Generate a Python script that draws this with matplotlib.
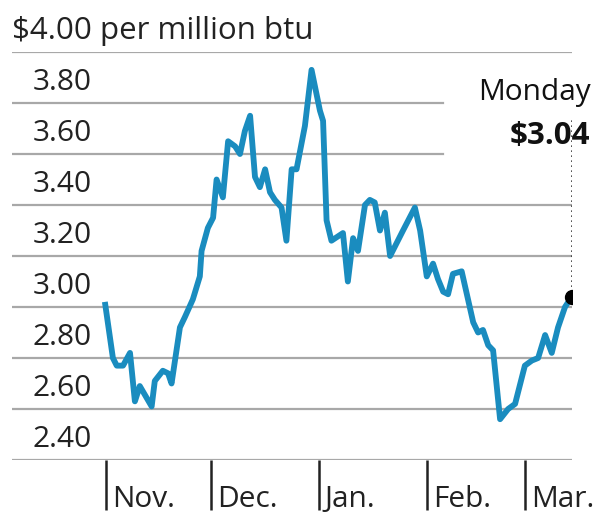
import matplotlib
matplotlib.use('Agg')
import matplotlib.pyplot as plt
import matplotlib.transforms as mtransforms

# Henry Hub natural gas, days counted from Nov. 1
days = [-0.3, 2.0, 3.1, 4.9, 6.9, 8.3, 9.7, 13.1, 14.0, 16.3, 17.8, 18.8,
        21.2, 22.6, 24.9, 26.9, 27.4, 29.2, 30.7, 31.7, 33.5, 35.0, 37.0,
        38.4, 39.8, 41.3, 42.7, 44.1, 45.6, 47.0, 48.4, 50.3, 51.7, 53.2,
        54.6, 57.0, 58.9, 61.3, 62.2, 63.2, 64.6, 67.9, 69.3, 70.8, 72.2,
        74.2, 75.6, 77.0, 78.5, 79.9, 81.4, 85.1, 88.5, 90.0, 91.9, 93.7,
        95.1, 96.6, 98.0, 99.4, 101.9, 105.2, 106.6, 108.0, 109.5, 110.9,
        112.9, 115.2, 117.2, 120.0, 122.0, 123.8, 125.8, 127.7, 129.5,
        131.5, 133.4]
prices = [3.02, 2.80, 2.77, 2.77, 2.82, 2.63, 2.69, 2.61, 2.71, 2.75, 2.74,
          2.70, 2.92, 2.96, 3.03, 3.12, 3.22, 3.31, 3.35, 3.50, 3.43, 3.65,
          3.63, 3.60, 3.69, 3.75, 3.51, 3.47, 3.54, 3.45, 3.42, 3.39, 3.26,
          3.54, 3.54, 3.71, 3.93, 3.77, 3.73, 3.34, 3.26, 3.29, 3.10, 3.27,
          3.22, 3.40, 3.42, 3.41, 3.30, 3.37, 3.20, 3.30, 3.39, 3.30, 3.12,
          3.17, 3.11, 3.06, 3.05, 3.13, 3.14, 2.94, 2.90, 2.91, 2.85, 2.83,
          2.56, 2.60, 2.62, 2.77, 2.79, 2.80, 2.89, 2.82, 2.92, 3.00, 3.04]

month_days = [0, 30, 61, 92, 120]
month_labels = ['Nov.', 'Dec.', 'Jan.', 'Feb.', 'Mar.']
y_levels = [2.40, 2.60, 2.80, 3.00, 3.20, 3.40, 3.60, 3.80]
y_labels = ['2.40', '2.60', '2.80', '3.00', '3.20', '3.40', '3.60', '3.80']

plt.rcParams['font.family'] = ['Open Sans', 'DejaVu Sans']

fig = plt.figure(figsize=(5.99, 5.16), dpi=100)
ax = fig.add_axes([12 / 599, 1 - 460 / 516, 560 / 599, 408 / 516])
ax.set_xlim(-26.9, 133.5)
ax.set_ylim(2.40, 4.00)
for s in ax.spines.values():
    s.set_visible(False)
ax.set_yticks([])

grid_kw = dict(color='#a8a8a8', lw=1.6, zorder=1)
ax.axhline(4.00, **grid_kw)
for v, lab in zip(y_levels, y_labels):
    right = 0.77 if v >= 3.60 else 1.0
    ax.axhline(v, xmin=0, xmax=right, **grid_kw)
    ax.text(0.037, v + 0.022, lab, transform=ax.get_yaxis_transform(),
            fontsize=21.5, color='#222222', va='bottom', ha='left')

ax.text(0.0, 4.022, '$4.00 per million btu', transform=ax.get_yaxis_transform(),
        fontsize=22.5, color='#222222', va='bottom', ha='left')

ax.plot(days, prices, color='#1a8cbf', lw=4.2, solid_joinstyle='round',
        solid_capstyle='butt', zorder=3)
ax.plot(days[-1], prices[-1], 'o', color='black', ms=10, zorder=4)
ax.plot([days[-1], days[-1]], [prices[-1], 3.74], ls=(0, (1, 2)), color='#333333',
        lw=1.2, zorder=2)
ax.text(1.033, 3.81, 'Monday', transform=ax.get_yaxis_transform(), fontsize=21.5,
        ha='right', va='baseline', color='#111111')
ax.text(1.033, 3.64, '$3.04', transform=ax.get_yaxis_transform(), fontsize=22.5,
        fontweight='bold', ha='right', va='baseline', color='#111111')

ax.set_xticks(month_days)
ax.set_xticklabels([])
ax.tick_params(axis='x', length=36, width=1.8, color='#222222', direction='out')
offset = mtransforms.ScaledTranslation(6 / 100, 0, fig.dpi_scale_trans)
for d, lab in zip(month_days, month_labels):
    ax.text(d, -0.115, lab, transform=ax.get_xaxis_transform() + offset,
            fontsize=21.5, color='#222222', ha='left', va='baseline')

fig.savefig('out.png', dpi=100)
